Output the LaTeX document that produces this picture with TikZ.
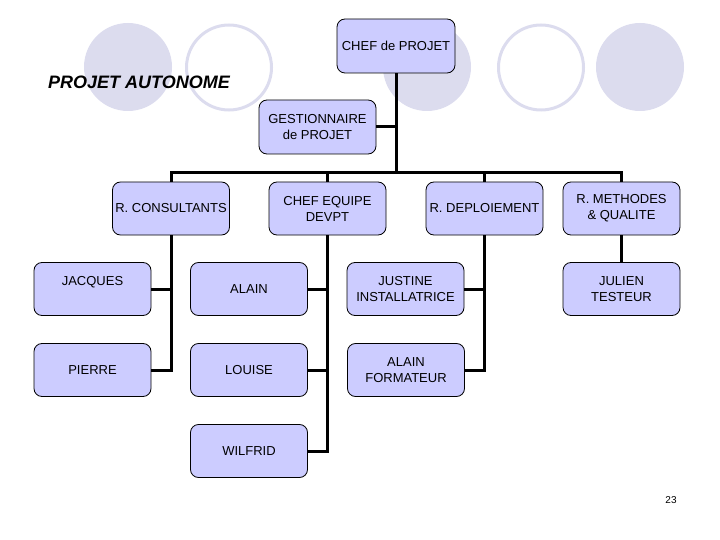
\documentclass[tikz,border=0pt]{standalone}
\usepackage{fontspec}
\setmainfont{Liberation Sans}
\definecolor{circ}{HTML}{DCDCEE}
\definecolor{boxfill}{HTML}{CCCCFF}
\begin{document}
\begin{tikzpicture}[x=1pt,y=-1pt,
  orgbox/.style={draw=black,line width=0.8pt,fill=boxfill,rounded corners=8pt,
    minimum width=117pt,minimum height=53pt,align=center,inner sep=0pt,
    font=\fontsize{13}{16}\selectfont},
  link/.style={line width=3pt,draw=black,line join=miter},
  fcirc/.style={fill=circ,draw=none},
  ocirc/.style={draw=circ,line width=3pt,fill=none}]
\useasboundingbox (0,0) rectangle (720,540);
% background circles
\fill[fcirc] (128,67) circle[radius=44];
\draw[ocirc] (229,67.5) circle[radius=42.5];
\fill[fcirc] (427,67) circle[radius=44];
\draw[ocirc] (541,67.5) circle[radius=42.5];
\fill[fcirc] (640,67) circle[radius=44];
% title
\node[anchor=west,inner sep=0pt,font=\fontsize{18}{20}\selectfont\bfseries\itshape] (title) at (48,82) {PROJET AUTONOME};
% boxes
\node[orgbox,minimum width=118pt,minimum height=54pt] (chef) at (396,46) {CHEF de PROJET};
\node[orgbox,minimum height=54pt] (gest) at (317.5,127) {GESTIONNAIRE\\de PROJET};
\node[orgbox] (rc) at (171,208.5) {R. CONSULTANTS};
\node[orgbox] (ce) at (327.5,208.5) {CHEF EQUIPE\\DEVPT};
\node[orgbox] (rd) at (484.5,208.5) {R. DEPLOIEMENT};
\node[orgbox] (rm) at (621.5,208.5) {R. METHODES\\\&{} QUALITE};
\node[orgbox] (jacques) at (92.5,289) {JACQUES\\\mbox{}};
\node[orgbox] (alain) at (249,289) {ALAIN};
\node[orgbox] (justine) at (405.5,289) {JUSTINE\\INSTALLATRICE};
\node[orgbox] (julien) at (621.5,289) {JULIEN\\TESTEUR};
\node[orgbox] (pierre) at (92.5,370) {PIERRE};
\node[orgbox] (louise) at (249,370) {LOUISE};
\node[orgbox] (form) at (406,370) {ALAIN\\FORMATEUR};
\node[orgbox] (wilfrid) at (249,451) {WILFRID};
% page number
\node[font=\fontsize{10}{12}\selectfont,inner sep=0pt] (page) at (671,500) {23};
% connectors
\coordinate (busc) at (396,173);
\begin{scope}[on background layer/.style={}]
\end{scope}
\draw[link] (chef.south) -- (busc);
\draw[link] (gest.east) -- (gest.east -| chef.south);
\draw[link] (rc.north) -- (rc.north |- busc) -- (rm.north |- busc) -- (rm.north);
\draw[link] (ce.north) -- (ce.north |- busc);
\draw[link] (rd.north) -- (rd.north |- busc);
\draw[link] (rc.south) |- (pierre.east);
\draw[link] (jacques.east) -- (jacques.east -| rc.south);
\draw[link] (ce.south) |- (wilfrid.east);
\draw[link] (alain.east) -- (alain.east -| ce.south);
\draw[link] (louise.east) -- (louise.east -| ce.south);
\draw[link] (rd.south) |- (form.east);
\draw[link] (justine.east) -- (justine.east -| rd.south);
\draw[link] (rm.south) -- (julien.north);
\end{tikzpicture}
\end{document}
